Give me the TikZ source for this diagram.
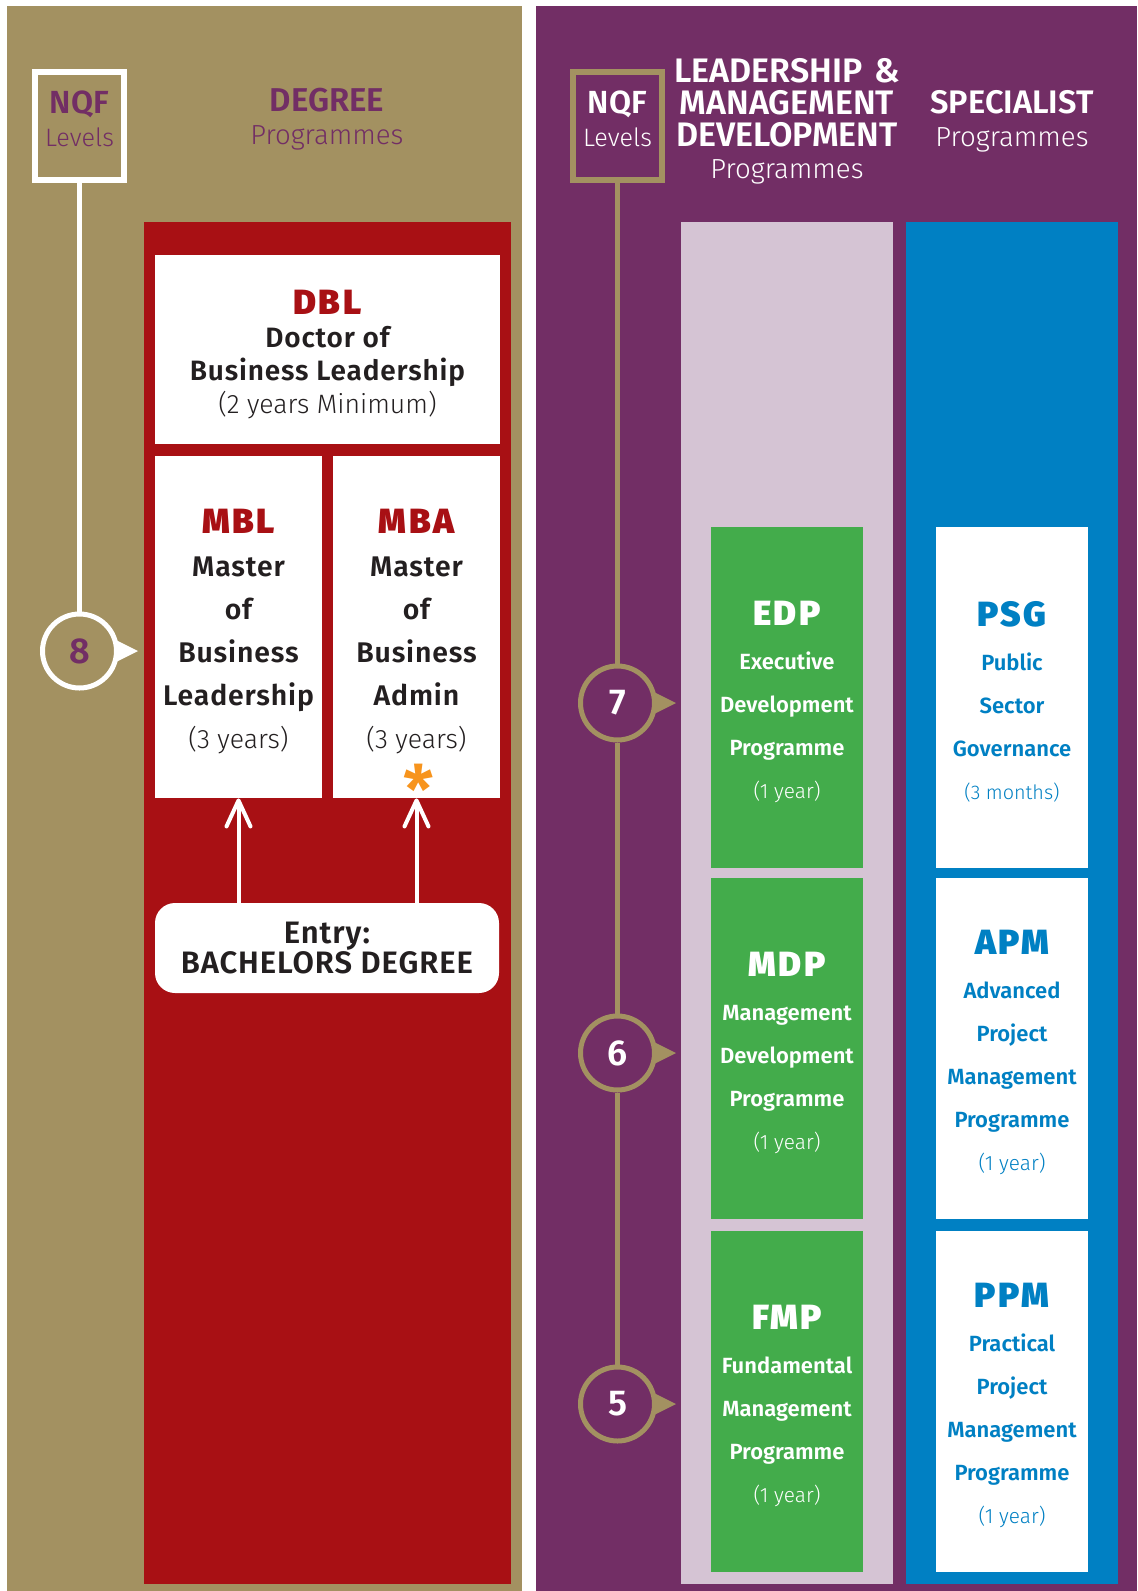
\documentclass[tikz,border=0pt]{standalone}
\usepackage{fontspec}
\setmainfont{Fira Sans}
\newfontfamily\lightfont{Fira Sans Light}
\newfontfamily\semifont{Fira Sans SemiBold}
\newfontfamily\degfont{Fira Sans SemiBold}[LetterSpace=3]
\newfontfamily\blackfont{Fira Sans Black}[LetterSpace=7]
\usetikzlibrary{arrows.meta}

\definecolor{nqftan}{RGB}{163,145,97}
\definecolor{nqfplum}{RGB}{114,46,101}
\definecolor{nqfwine}{RGB}{168,16,20}
\definecolor{nqflilac}{RGB}{213,196,212}
\definecolor{nqfleaf}{RGB}{67,172,75}
\definecolor{nqfsea}{RGB}{0,128,195}
\definecolor{nqfink}{RGB}{35,31,32}
\definecolor{nqfamber}{RGB}{247,148,29}

\newcommand\boxtitle[2]{{\blackfont\fontsize{17.5}{17.5}\selectfont\rule{0pt}{#1}#2}}
\newcommand\lighter[1]{{\lightfont\fontsize{10.4}{10.4}\selectfont #1}}
\newcommand\degyears[1]{{\lightfont\fontsize{13.3}{13.3}\selectfont #1}}

\begin{document}
\begin{tikzpicture}[x=0.5pt,y=-0.5pt]
\tikzstyle{every node}+=[inner sep=0pt]
\tikzstyle{nqfbox}=[line width=3pt,minimum width=44.5pt,minimum height=54pt]
\tikzstyle{level}=[circle,line width=2.5pt,minimum size=37pt,font=\semifont\fontsize{18}{18}\selectfont]
\tikzstyle{degbox}=[fill=white,text=nqfink,align=center,font=\degfont\fontsize{14.2}{21.5}\selectfont]
\tikzstyle{progbox}=[minimum width=76pt,minimum height=170.5pt,align=center,font=\semifont\fontsize{11}{21.5}\selectfont]
\tikzstyle{lmd}=[progbox,fill=nqfleaf,text=white]
\tikzstyle{spec}=[progbox,fill=white,text=nqfsea]
\tikzstyle{entryarrow}=[white,line width=2pt,-{Straight Barb[length=13pt,width=12pt,round]}]
\useasboundingbox (0,0) rectangle (1137,1591);
\fill[white] (0,0) rectangle (1137,1591);
\fill[nqftan] (7,6) rectangle (522,1591);
\fill[nqfplum] (536,6) rectangle (1137,1591);
\fill[nqfwine] (144,222) rectangle (511,1584);
\fill[nqflilac] (681,222) rectangle (893,1584);
\fill[nqfsea] (906,222) rectangle (1118,1584);

\node[nqfbox,draw=white] (nqfL) at (79.5,126) {};
\node[align=center,text=nqfplum,font=\fontsize{12.6}{16.5}\selectfont] (nqfLtext) at (79.5,118.5) {{\semifont\fontsize{16}{16}\selectfont NQF}\\{\lightfont Levels}};
\node[align=center,text=nqfplum,font=\fontsize{13.8}{16.5}\selectfont] (degree) at (327,119.5) {{\semifont\fontsize{16.5}{16.5}\selectfont DEGREE}\\{\lightfont Programmes}};

\node[nqfbox,draw=nqftan] (nqfR) at (617.5,126) {};
\node[align=center,text=white,font=\fontsize{12.6}{16.5}\selectfont] (nqfRtext) at (617.5,118.5) {{\semifont\fontsize{16}{16}\selectfont NQF}\\{\lightfont Levels}};
\node[align=center,text=white,font=\semifont\fontsize{17}{16}\selectfont] (lmdhead) at (787,121) {LEADERSHIP\hspace{6pt}\&\\MANAGEMENT\\DEVELOPMENT\\{\lightfont\fontsize{13.8}{16}\selectfont Programmes}};
\node[align=center,text=white,font=\fontsize{13.8}{16.5}\selectfont] (spechead) at (1012,121.5) {{\semifont\fontsize{16.3}{16.3}\selectfont SPECIALIST}\\{\lightfont Programmes}};

\node[degbox,minimum width=172.5pt,minimum height=94.5pt,font=\degfont\fontsize{14}{16.5}\selectfont] (dbl) at (327.5,349.5) {\boxtitle{17pt}{\color{nqfwine}DBL}\\Doctor of\\Business Leadership\\\degyears{(2 years Minimum)}};
\node[degbox,minimum width=83.5pt,minimum height=171pt] (mbl) at (238.5,627) {\boxtitle{16.5pt}{\color{nqfwine}MBL}\\Master\\of\\Business\\Leadership\\\degyears{(3 years)}};
\node[degbox,minimum width=83.5pt,minimum height=171pt] (mba) at (416.5,627) {\boxtitle{16.5pt}{\color{nqfwine}MBA}\\Master\\of\\Business\\Admin\\\degyears{(3 years)}};
\node[text=nqfamber,font=\semifont\fontsize{34}{34}\selectfont] (asterisk) at (419,789) {*};
\node[degbox,rounded corners=10pt,minimum width=172pt,minimum height=45pt,font=\degfont\fontsize{15.5}{15.2}\selectfont] (entry) at (327,948) {Entry:\\BACHELORS DEGREE};
\draw[entryarrow] (entry.north -| mbl.south) -- (mbl.south);
\draw[entryarrow] (entry.north -| mba.south) -- (mba.south);

\node[level,draw=white,text=nqfplum] (l8) at (79.5,651) {8};
\fill[white] (l8.east) ++(-3,-11) -- ++(22,11) -- ++(-22,11) -- cycle;
\draw[white,line width=2.5pt] (nqfL.south) -- (l8.north);

\node[lmd] (edp) at (787,697.5) {\boxtitle{16.5pt}{EDP}\\[0.5pt]Executive\\Development\\Programme\\\lighter{(1 year)}};
\node[lmd] (mdp) at (787,1048.5) {\boxtitle{16.5pt}{MDP}\\[0.5pt]Management\\Development\\Programme\\\lighter{(1 year)}};
\node[lmd] (fmp) at (787,1401.5) {\boxtitle{16.5pt}{FMP}\\[0.5pt]Fundamental\\Management\\Programme\\\lighter{(1 year)}};
\node[spec] (psg) at (1012,697.5) {\boxtitle{16.5pt}{PSG}\\[0.5pt]Public\\Sector\\Governance\\{\lightfont\fontsize{9.9}{9.9}\selectfont (3 months)}};
\node[spec] (apm) at (1012,1048.5) {\boxtitle{16pt}{APM}\\[0.5pt]Advanced\\Project\\Management\\Programme\\\lighter{(1 year)}};
\node[spec] (ppm) at (1012,1401.5) {\boxtitle{16pt}{PPM}\\[0.5pt]Practical\\Project\\Management\\Programme\\\lighter{(1 year)}};

\node[level,draw=nqftan,text=white] (l7) at (617.5,703) {7};
\node[level,draw=nqftan,text=white] (l6) at (617.5,1053) {6};
\node[level,draw=nqftan,text=white] (l5) at (617.5,1404) {5};
\fill[nqftan] (l7.east) ++(-3,-11) -- ++(22,11) -- ++(-22,11) -- cycle;
\fill[nqftan] (l6.east) ++(-3,-11) -- ++(22,11) -- ++(-22,11) -- cycle;
\fill[nqftan] (l5.east) ++(-3,-11) -- ++(22,11) -- ++(-22,11) -- cycle;
\draw[nqftan,line width=2.5pt] (nqfR.south) -- (l7.north) (l7.south) -- (l6.north) (l6.south) -- (l5.north);
\end{tikzpicture}
\end{document}
